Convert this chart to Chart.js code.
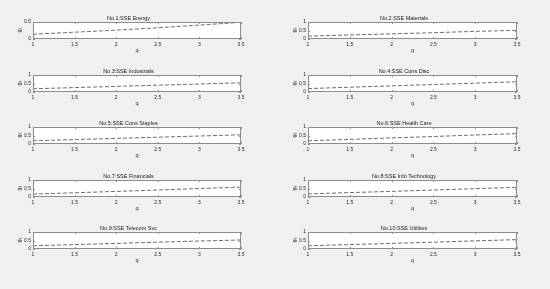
<!DOCTYPE html>
<html>
<head>
<meta charset="utf-8">
<script src="https://cdn.jsdelivr.net/npm/chart.js@4"></script>
<style>
  html, body { margin: 0; padding: 0; background: #f0f0f0; }
  body { width: 550px; height: 289px; position: relative; overflow: hidden; }
  .panel { position: absolute; }
</style>
</head>
<body>
<script>
// Data
const qValues = [1, 1.5, 2, 2.5, 3, 3.5];
const panelTitles = [
  'No.1:SSE Energy', 'No.2:SSE Materials',
  'No.3:SSE Industrials', 'No.4:SSE Cons Disc',
  'No.5:SSE Cons Staples', 'No.6:SSE Health Care',
  'No.7:SSE Financials', 'No.8:SSE Info Technology',
  'No.9:SSE Telecom Svc', 'No.10:SSE Utilities'
];
const energy      = [0.14, 0.20, 0.26, 0.33, 0.41, 0.49];
const materials   = [0.17, 0.24, 0.30, 0.37, 0.45, 0.51];
const industrials = [0.19, 0.26, 0.33, 0.40, 0.47, 0.54];
const consDisc    = [0.20, 0.28, 0.36, 0.44, 0.52, 0.60];
const consStaples = [0.19, 0.26, 0.33, 0.40, 0.47, 0.54];
const healthCare  = [0.19, 0.27, 0.36, 0.44, 0.53, 0.61];
const financials  = [0.17, 0.25, 0.33, 0.41, 0.50, 0.58];
const infoTech    = [0.18, 0.26, 0.33, 0.41, 0.49, 0.57];
const telecom     = [0.19, 0.26, 0.33, 0.40, 0.47, 0.53];
const utilities   = [0.19, 0.26, 0.33, 0.40, 0.48, 0.55];
const seriesList = [energy, materials, industrials, consDisc, consStaples,
                    healthCare, financials, infoTech, telecom, utilities];
const yMaxList = [0.5, 1, 1, 1, 1, 1, 1, 1, 1, 1];
const xTicks = [1, 1.5, 2, 2.5, 3, 3.5];
const yTicks = [0, 0.5, 1];

// layout of the plot boxes (matlab subplot grid)
const colLeft = [33, 308];
const colWidth = [208, 209];
const rowTop = [22, 75, 127, 180, 232];
const boxH = 17;
const YAX = 17, TITLE = 14, XAX = 15, PADR = 17;

const fmt = v => String(Number(Number(v).toFixed(2)));

// white plot area, box and inward tick marks
const boxPlugin = {
  id: 'box',
  beforeDraw(chart) {
    const a = chart.chartArea, ctx = chart.ctx;
    ctx.save();
    ctx.fillStyle = '#ffffff';
    ctx.fillRect(a.left, a.top, a.right - a.left, a.bottom - a.top);
    ctx.restore();
  },
  afterDraw(chart) {
    const a = chart.chartArea, ctx = chart.ctx;
    const x = chart.scales.x, y = chart.scales.y;
    ctx.save();
    ctx.strokeStyle = '#8c8c8c';
    ctx.lineWidth = 1;
    ctx.strokeRect(a.left + 0.5, a.top + 0.5, a.right - a.left - 1, a.bottom - a.top - 1);
    ctx.beginPath();
    x.ticks.forEach(t => {
      const px = Math.round(x.getPixelForValue(t.value)) + 0.5;
      ctx.moveTo(px, a.bottom); ctx.lineTo(px, a.bottom - 2);
      ctx.moveTo(px, a.top); ctx.lineTo(px, a.top + 2);
    });
    y.ticks.forEach(t => {
      const py = Math.round(y.getPixelForValue(t.value)) + 0.5;
      ctx.moveTo(a.left, py); ctx.lineTo(a.left + 2, py);
      ctx.moveTo(a.right, py); ctx.lineTo(a.right - 2, py);
    });
    ctx.stroke();
    ctx.restore();
  }
};

Chart.defaults.font.family = '"Liberation Sans", Arial, sans-serif';
Chart.defaults.color = '#262626';

seriesList.forEach((vals, i) => {
  const col = i % 2, row = Math.floor(i / 2);
  const div = document.createElement('div');
  div.className = 'panel';
  div.style.left = (colLeft[col] - YAX) + 'px';
  div.style.top = (rowTop[row] - TITLE) + 'px';
  div.style.width = (YAX + colWidth[col] + PADR) + 'px';
  div.style.height = (TITLE + boxH + XAX) + 'px';
  const cv = document.createElement('canvas');
  div.appendChild(cv);
  document.body.appendChild(div);

  const yMax = yMaxList[i];
  new Chart(cv, {
    type: 'line',
    data: {
      datasets: [{
        data: qValues.map((q, k) => ({ x: q, y: vals[k] })),
        borderColor: '#6e6e6e',
        borderWidth: 1,
        borderDash: [4, 2],
        pointRadius: 0,
        fill: false,
        tension: 0
      }]
    },
    options: {
      responsive: true,
      maintainAspectRatio: false,
      animation: false,
      events: [],
      layout: { padding: { left: 0, right: PADR, top: 0, bottom: 0 } },
      plugins: {
        legend: { display: false },
        tooltip: { enabled: false },
        title: {
          display: true,
          text: panelTitles[i],
          color: '#1a1a1a',
          font: { size: 5.5, weight: 'normal', lineHeight: '6px' },
          padding: { top: 7, bottom: 1 }
        }
      },
      scales: {
        x: {
          type: 'linear',
          min: 1, max: 3.5,
          afterBuildTicks: s => { s.ticks = xTicks.map(v => ({ value: v })); },
          afterFit: s => { s.height = XAX; },
          grid: { display: false, drawTicks: false },
          border: { display: false },
          ticks: { font: { size: 5 }, padding: 2.5, maxRotation: 0, autoSkip: false, callback: fmt },
          title: { display: true, text: 'q', font: { size: 5.5 }, padding: 0 }
        },
        y: {
          min: 0, max: yMax,
          afterBuildTicks: s => { s.ticks = yTicks.filter(v => v <= yMax).map(v => ({ value: v })); },
          afterFit: s => { s.width = YAX; },
          grid: { display: false, drawTicks: false },
          border: { display: false },
          ticks: { font: { size: 5 }, padding: 2, autoSkip: false, callback: fmt },
          title: { display: true, text: 'gₜ', font: { size: 5.5 }, padding: 0 }
        }
      }
    },
    plugins: [boxPlugin]
  });
});
</script>
</body>
</html>
